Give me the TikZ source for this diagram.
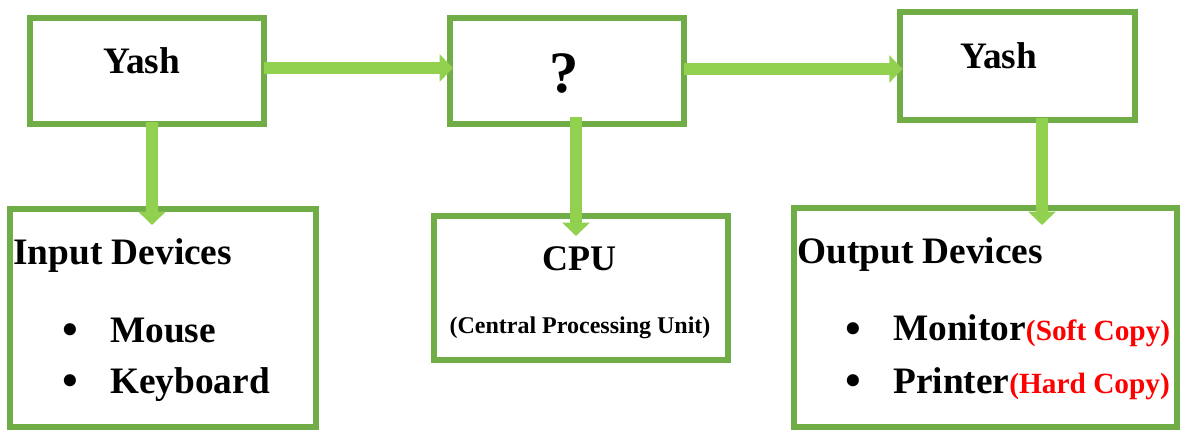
\documentclass[tikz,border=0pt]{standalone}
\usepackage{fontspec}
\setmainfont{Liberation Serif}
\usepackage{tikz}
\usetikzlibrary{positioning}
\usetikzlibrary{arrows.meta}
\usetikzlibrary{calc}
\definecolor{boxgreen}{HTML}{70AD47}
\definecolor{arrowgreen}{HTML}{92D050}
\tikzstyle{block}=[rectangle,draw=boxgreen,line width=4.5pt,outer sep=0pt,inner sep=0pt]
\tikzstyle{flow} = [draw=arrowgreen,line width=9pt,-{Triangle[length=10pt,width=20pt]}]
\tikzstyle{big}=[font=\fontsize{28}{34}\selectfont\bfseries,inner sep=0pt]
\tikzstyle{dot}=[font=\fontsize{38}{44}\selectfont,inner sep=0pt,anchor=base]
\newcommand{\copytag}[1]{{\fontsize{22}{26}\selectfont\color{red}#1}}

\begin{document}
\begin{tikzpicture}[x=0.75pt,y=-0.75pt]

  \def\u{0.75pt}
  \useasboundingbox (0,0) rectangle (1180,430);

  % boxes
  \foreach \x/\y/\w/\h/\name in {147/71/234/106/yash1, 567/71/234/106/q, 1017.5/66/235/108/yash2,
                                 163/318/306/218/inp, 581/288/294/144/cpu, 985.5/317.5/383/219/outp}
    \node[block,minimum width=\w*\u,minimum height=\h*\u] (\name) at (\x,\y) {};

  % titles and items
  \foreach \x/\y/\name/\label in {103/73/yashA/Yash, 960/68/yashB/Yash, 13/264/intitle/Input Devices,
                                  110/342/mouse/Mouse, 110/393/keyb/Keyboard, 797/263/outtitle/Output Devices}
    \node[big,anchor=base west] (\name) at (\x,\y) {\label};

  \node[big,anchor=base west] (mon) at (893,340) {Monitor\copytag{(Soft Copy)}};
  \node[big,anchor=base west] (prn) at (893,393) {Printer\copytag{(Hard Copy)}};

  \foreach \x/\y/\name in {70/346/dot1, 70/397/dot2, 853/345/dot3, 853/397/dot4}
    \node[dot] (\name) at (\x,\y) {•};

  \node[font=\fontsize{44}{50}\selectfont\bfseries,anchor=base] (qmark) at (564,92) {?};
  \node[font=\fontsize{27}{32}\selectfont\bfseries,anchor=base] (cputxt) at (579,270) {CPU};
  \node[font=\fontsize{18}{22}\selectfont\bfseries,anchor=base] (cpulong) at (580,333) {(Central Processing Unit)};

  % arrows
  \draw[flow,shorten >=-2.25pt] ($(yash1.east)+(0,-3)$) -- ($(q.west)+(0,-3)$);
  \draw[flow,shorten >=-2pt] ($(q.east)+(0,-2)$) -- ($(q.east -| yash2.west)+(0,-2)$);
  \draw[flow,shorten <=-1.5pt,shorten >=-12pt] ($(yash1.south)+(5,0)$) -- ($(yash1.south |- inp.north)+(5,0)$);
  \draw[flow,shorten <=-5.25pt,shorten >=-15pt] ($(q.south)+(9,0)$) -- ($(q.south |- cpu.north)+(9,0)$);
  \draw[flow,shorten <=-1.5pt,shorten >=-12.75pt] ($(yash2.south)+(24.5,0)$) -- ($(yash2.south |- outp.north)+(24.5,0)$);

\end{tikzpicture}
\end{document}
